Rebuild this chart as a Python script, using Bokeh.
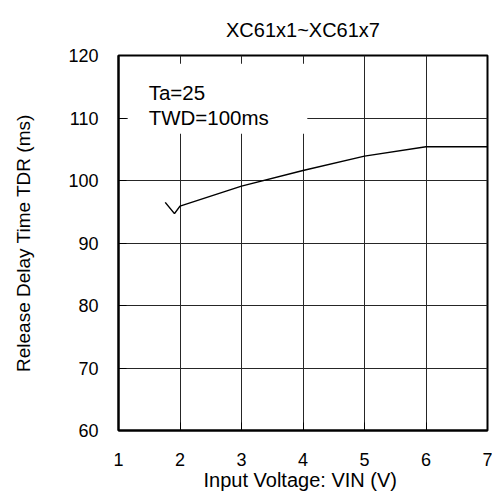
from bokeh.plotting import figure
from bokeh.models import LinearAxis, Range1d, BoxAnnotation, Label, FixedTicker
from bokeh.embed import file_html
from bokeh.resources import INLINE

# data
vin = [1.76, 1.91, 2.0, 3.0, 4.0, 5.0, 6.0, 7.0]
tdr = [96.5, 94.7, 95.9, 99.1, 101.6, 103.9, 105.4, 105.4]
x_ticks = [1, 2, 3, 4, 5, 6, 7]
y_ticks = [60, 70, 80, 90, 100, 110, 120]
title_text = "XC61x1~XC61x7"
x_label = "Input Voltage:  VIN (V)"
y_label = "Release Delay Time TDR (ms)"
note_lines = ["Ta=25", "TWD=100ms"]

FONT = "Liberation Sans"

p = figure(frame_width=369, frame_height=375,
           x_range=Range1d(1, 7), y_range=Range1d(60, 120),
           output_backend="svg", toolbar_location=None,
           min_border_left=118, min_border_right=5,
           min_border_top=55, min_border_bottom=60,
           x_axis_location=None, y_axis_location=None)
p.outline_line_color = "black"
p.outline_line_width = 2
p.background_fill_color = "white"
p.border_fill_color = "white"

p.title.text = title_text
p.title.align = "center"
p.title.offset = 4
p.title.text_font = FONT
p.title.text_font_size = "20px"
p.title.text_font_style = "normal"
p.title.text_color = "black"
p.title.standoff = 30

def style_axis(ax):
    ax.axis_line_width = 2
    ax.axis_line_color = "black"
    ax.major_tick_in = 8
    ax.major_tick_out = 0
    ax.major_tick_line_color = "black"
    ax.major_tick_line_width = 1
    ax.minor_tick_line_color = None
    ax.major_label_text_font = FONT
    ax.major_label_text_font_size = "18px"
    ax.major_label_text_color = "black"
    ax.axis_label_text_font = FONT
    ax.axis_label_text_font_size = "19px"
    ax.axis_label_text_font_style = "normal"
    ax.axis_label_text_color = "black"

xb = LinearAxis(ticker=FixedTicker(ticks=x_ticks), axis_label=x_label)
style_axis(xb)
xb.major_label_standoff = 22
xb.axis_label_standoff = 0
xb.axis_label_text_font_size = "20px"
p.add_layout(xb, "below")

yl = LinearAxis(ticker=FixedTicker(ticks=y_ticks), axis_label=y_label)
style_axis(yl)
yl.major_label_standoff = 20
yl.axis_label_standoff = 31
p.add_layout(yl, "left")

p.xgrid.ticker = FixedTicker(ticks=x_ticks)
p.ygrid.ticker = FixedTicker(ticks=y_ticks)
for g in (p.xgrid, p.ygrid):
    g.grid_line_color = "#262626"
    g.grid_line_width = 1

box = BoxAnnotation(left=1.15, right=4.07, top=118.7, bottom=107.5,
                    fill_color="white", fill_alpha=1.0, line_alpha=0,
                    level="underlay")
p.add_layout(box)

p.add_layout(Label(x=1.49, y=114.1, text=note_lines[0], text_font=FONT,
                   text_font_size="20.5px", text_color="black",
                   text_baseline="alphabetic"))
p.add_layout(Label(x=1.49, y=110.1, text=note_lines[1], text_font=FONT,
                   text_font_size="20.5px", text_color="black",
                   text_baseline="alphabetic"))

p.line(vin, tdr, line_color="black", line_width=1.5)

open("out.html", "w").write(file_html(p, INLINE))
